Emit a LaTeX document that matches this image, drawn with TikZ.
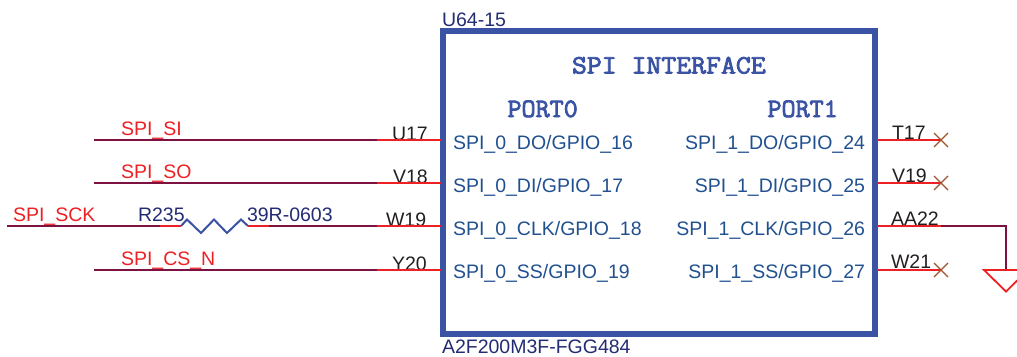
\documentclass[tikz,border=0pt]{standalone}
\usepackage{graphicx}
\usepackage{fontspec}
\setmainfont{Liberation Sans}
\newfontfamily\headfont[FakeBold=3,FakeStretch=1.03]{Latin Modern Mono}
\definecolor{blk}{HTML}{3A53A4}
\definecolor{pinname}{HTML}{21508F}
\definecolor{refdes}{HTML}{232C73}
\definecolor{pinnum}{HTML}{231F20}
\definecolor{netred}{HTML}{ED2024}
\definecolor{wire}{HTML}{7D1240}
\definecolor{nc}{HTML}{A0522D}
\tikzset{
  x=1pt,y=-1pt,
  lbl/.style={inner sep=0pt,outer sep=0pt,font=\fontsize{19.5}{20}\selectfont},
  pinlabel/.style={lbl,text=pinname},
  pinnumber/.style={lbl,text=pinnum,anchor=base west},
  netlabel/.style={lbl,text=netred,anchor=base west},
  reflabel/.style={lbl,text=refdes,anchor=base west},
  heading/.style={inner sep=0pt,outer sep=0pt,text=blk,anchor=base west,font=\fontsize{26.5}{27}\headfont},
  pinline/.style={netred,line width=2pt},
  wireline/.style={wire,line width=2pt},
  ncmark/.style={nc,line width=1.1pt},
  rbody/.style={blk,line width=2pt,line join=miter},
  gndsym/.style={netred,line width=1.8pt},
  chip/.style={draw=blk,line width=6.4pt,inner sep=0pt,minimum width=432pt,minimum height=303pt}
}
\begin{document}
\begin{tikzpicture}
\useasboundingbox (0,0) rectangle (1017,356);
\clip (0,0) rectangle (1017,356);
\node[chip] (box) at (659,182.5) {};
% reference labels
\node[reflabel] (ref) at (442,26.5) {U64-15};
\node[reflabel] (part) at (442,353) {A2F200M3F-FGG484};
\node[heading] (title) at (572,73.5) {\scalebox{1.06}[1]{SPI INTERFACE}};
\node[heading] (port0) at (507.5,117) {PORT0};
\node[heading] (port1) at (767.5,117) {PORT1};
% pin names
\node[pinlabel,anchor=base west] (a0) at (453,149) {SPI\_0\_DO/GPIO\_16};
\node[pinlabel,anchor=base west] (a1) at (453,192) {SPI\_0\_DI/GPIO\_17};
\node[pinlabel,anchor=base west] (a2) at (453,235) {SPI\_0\_CLK/GPIO\_18};
\node[pinlabel,anchor=base west] (a3) at (453,278) {SPI\_0\_SS/GPIO\_19};
\node[pinlabel,anchor=base east] (b0) at (865,149) {SPI\_1\_DO/GPIO\_24};
\node[pinlabel,anchor=base east] (b1) at (865,192) {SPI\_1\_DI/GPIO\_25};
\node[pinlabel,anchor=base east] (b2) at (865,235) {SPI\_1\_CLK/GPIO\_26};
\node[pinlabel,anchor=base east] (b3) at (865,278) {SPI\_1\_SS/GPIO\_27};
% pin numbers
\node[pinnumber] (u17) at (392,140) {U17};
\node[pinnumber] (v18) at (393,183) {V18};
\node[pinnumber] (w19) at (386,226) {W19};
\node[pinnumber] (y20) at (392,270) {Y20};
\node[pinnumber] (t17) at (892,139) {T17};
\node[pinnumber] (v19) at (892,182.5) {V19};
\node[pinnumber] (aa22) at (891,225) {AA22};
\node[pinnumber] (w21) at (891,268) {W21};
% net labels
\node[netlabel] (si) at (121,135) {SPI\_SI};
\node[netlabel] (so) at (121,178) {SPI\_SO};
\node[netlabel] (sck) at (13,221.5) {SPI\_SCK};
\node[netlabel] (cs) at (121,265) {SPI\_CS\_N};
\node[reflabel] (r235) at (138,221.5) {R235};
\node[reflabel] (rval) at (247,221.5) {39R-0603};
% coordinates
\coordinate (e0) at (94,140);   \coordinate (p0) at (377,140); \coordinate (q0) at (441,140);
\coordinate (e1) at (94,183);   \coordinate (p1) at (377,183); \coordinate (q1) at (441,183);
\coordinate (e2) at (7,226);    \coordinate (p2) at (377,226); \coordinate (q2) at (441,226);
\coordinate (e3) at (94,270);   \coordinate (p3) at (377,270); \coordinate (q3) at (441,270);
\coordinate (ra) at (160,226); \coordinate (rb) at (181,226);
\coordinate (rc) at (248,226); \coordinate (rd) at (269,226);
\coordinate (r0) at (877,140); \coordinate (x0) at (941,140);
\coordinate (r1) at (877,183); \coordinate (x1) at (941,183);
\coordinate (r2) at (877,226); \coordinate (x2) at (941,226);
\coordinate (r3) at (877,270); \coordinate (x3) at (941,270);
\coordinate (gt) at (1006,270);
\coordinate (gl) at (984,270);
\coordinate (gr) at (1028,270);
\coordinate (ga) at (1006,291.5);
% wires
\draw[wireline] (e0) -- (p0);
\draw[wireline] (e1) -- (p1);
\draw[wireline] (e3) -- (p3);
\draw[wireline] (e2) -- (ra);
\draw[wireline] (rd) -- (p2);
\draw[wireline] (x2) -| (gt);
% pins
\draw[pinline] (p0) -- (q0);
\draw[pinline] (p1) -- (q1);
\draw[pinline] (p2) -- (q2);
\draw[pinline] (p3) -- (q3);
\draw[pinline] (r0) -- (x0);
\draw[pinline] (r1) -- (x1);
\draw[pinline] (r2) -- (x2);
\draw[pinline] (r3) -- (x3);
\draw[pinline] (ra) -- (rb);
\draw[pinline] (rc) -- (rd);
% resistor
\draw[rbody] (rb) -- ++(6,-6.5) -- ++(14,13.5) -- ++(13,-13.5) -- ++(13,13.5) -- ++(14,-13.5) -- (rc);
% no-connect marks
\foreach \m in {x0,x1,x3}{
  \draw[ncmark] (\m) ++(-7,-7) -- ++(14,14);
  \draw[ncmark] (\m) ++(-7,7) -- ++(14,-14);
}
% ground
\draw[gndsym] (gl) -- (gr) -- (ga) -- cycle;
\end{tikzpicture}
\end{document}
